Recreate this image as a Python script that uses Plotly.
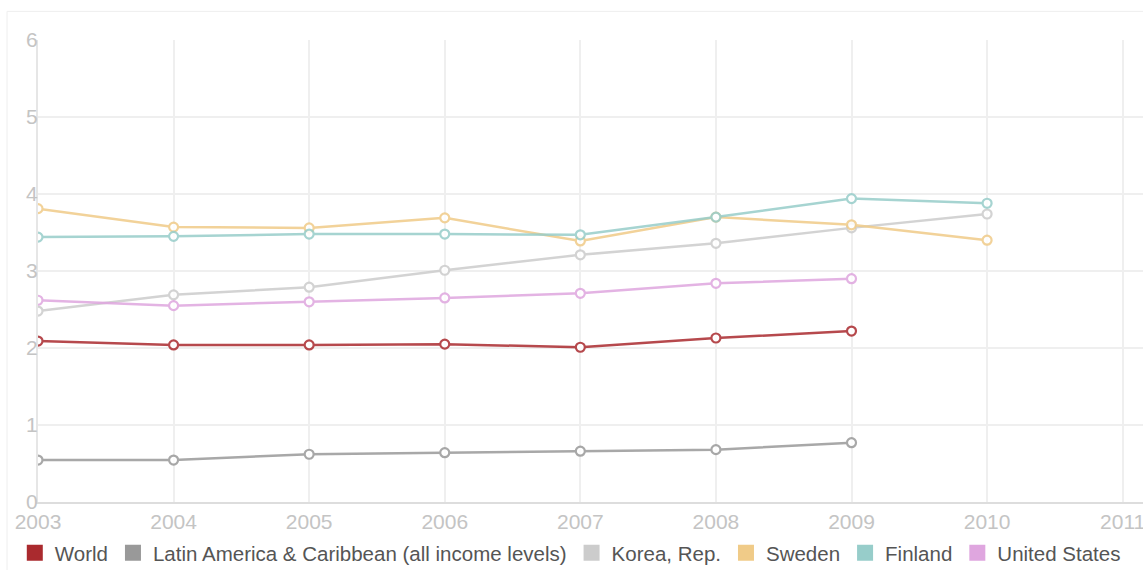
import plotly.graph_objects as go

years = [2003, 2004, 2005, 2006, 2007, 2008, 2009, 2010]

series_names = ["World", "Latin America & Caribbean (all income levels)", "Korea, Rep.",
                "Sweden", "Finland", "United States"]
world = [2.09, 2.04, 2.04, 2.05, 2.01, 2.13, 2.22, None]
latam = [0.545, 0.545, 0.62, 0.64, 0.66, 0.68, 0.77, None]
korea = [2.48, 2.69, 2.79, 3.01, 3.21, 3.36, 3.56, 3.74]
sweden = [3.81, 3.57, 3.56, 3.69, 3.39, 3.70, 3.60, 3.40]
finland = [3.44, 3.45, 3.48, 3.48, 3.47, 3.70, 3.94, 3.88]
usa = [2.62, 2.55, 2.60, 2.65, 2.71, 2.84, 2.90, None]
colors = ["#aa2a2e", "#999999", "#cccccc", "#f0cb88", "#97cdca", "#dfa6df"]

x_ticks = [2003, 2004, 2005, 2006, 2007, 2008, 2009, 2010, 2011]
y_ticks = [0, 1, 2, 3, 4, 5, 6]

fig = go.Figure()
all_vals = [world, latam, korea, sweden, finland, usa]
order = [1, 2, 5, 3, 4, 0]
for i in order:
    xs = [y for y, v in zip(years, all_vals[i]) if v is not None]
    vs = [v for v in all_vals[i] if v is not None]
    fig.add_trace(go.Scatter(
        x=xs, y=vs, mode="lines+markers", name=series_names[i], showlegend=False,
        line=dict(color=colors[i], width=2.5),
        marker=dict(symbol="circle", size=9, color="white",
                    line=dict(color=colors[i], width=2.2)),
        opacity=0.85,
    ))
for i, n in enumerate(series_names):
    fig.add_trace(go.Scatter(
        x=[None], y=[None], mode="markers", name=n, showlegend=True,
        marker=dict(symbol="square", size=16, color=colors[i]),
    ))

fig.update_layout(
    width=1143, height=570,
    margin=dict(l=38, r=0, t=40, b=68, autoexpand=False),
    paper_bgcolor="white", plot_bgcolor="white",
    font=dict(family="Liberation Sans, Arial, sans-serif"),
    showlegend=True,
    legend=dict(orientation="h", x=-0.021, xanchor="left", y=-0.067, yanchor="top",
                font=dict(size=20.5, color="#555555"), itemwidth=30,
                tracegroupgap=0, bgcolor="rgba(0,0,0,0)"),
    shapes=[dict(type="rect", xref="paper", yref="paper", x0=-0.028, x1=1.2, y0=-0.2, y1=1.062,
                 line=dict(color="#eeeeee", width=1), layer="below")],
)
fig.update_xaxes(range=[2003, 2011.15], tickvals=x_ticks, ticktext=[str(t) for t in x_ticks],
                 showgrid=True, gridcolor="#efefef", gridwidth=2,
                 showline=True, linecolor="#dddddd", linewidth=2,
                 zeroline=False, tickfont=dict(size=21, color="#c4c4c4"), ticks="",
                 ticklabeloverflow="allow")
fig.update_yaxes(range=[0, 6], tickvals=y_ticks,
                 showgrid=True, gridcolor="#efefef", gridwidth=2,
                 showline=True, linecolor="#e6e6e6", linewidth=2,
                 zeroline=False, tickfont=dict(size=21, color="#c4c4c4"), ticks="",
                 ticklabelstandoff=-6)

fig.write_html("out.html", config={"displayModeBar": False},
               post_script="document.body.style.margin='0';document.body.style.padding='0';")
